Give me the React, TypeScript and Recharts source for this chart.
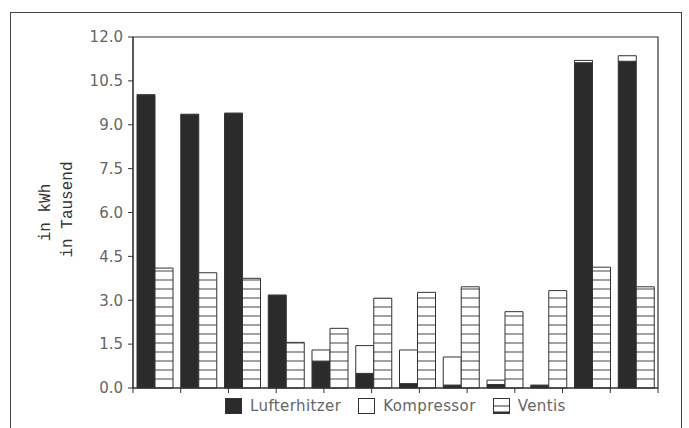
import { BarChart, Bar, XAxis, YAxis, Legend, ReferenceArea } from "recharts";

// months, no labels are printed under the bars
const months = ["Jan", "Feb", "Mär", "Apr", "Mai", "Jun", "Jul", "Aug", "Sep", "Okt", "Nov", "Dez"];
const lufterhitzer = [10.0, 9.34, 9.38, 3.16, 0.92, 0.5, 0.15, 0.1, 0.12, 0.08, 11.12, 11.17];
const kompressor = [0.03, 0.02, 0.02, 0.02, 0.38, 0.95, 1.15, 0.96, 0.15, 0.02, 0.08, 0.19];
const ventis = [4.1, 3.94, 3.75, 1.56, 2.04, 3.07, 3.27, 3.46, 2.61, 3.33, 4.13, 3.46];
const yTicks = [0, 1.5, 3, 4.5, 6, 7.5, 9, 10.5, 12];
const boundaryTicks = [0, 1, 2, 3, 4, 5, 6, 7, 8, 9, 10, 11, 12];

const data = months.map((m, i) => ({
  month: m,
  lufterhitzer: lufterhitzer[i],
  kompressor: kompressor[i],
  ventis: ventis[i],
}));

const INK = "#333";
const tickStyle = { fontFamily: "DejaVu Sans", fontSize: 15, fill: "#666" };

function AxisTitle(props: any) {
  const vb = props.viewBox || { y: 37, height: 351 };
  const cy = vb.y + vb.height / 2;
  const font = { fontFamily: "Liberation Mono", fontSize: 16, fill: "#333" };
  return (
    <g>
      <text transform={`translate(50,${cy}) rotate(-90)`} textAnchor="middle" {...font}>
        in kWh
      </text>
      <text transform={`translate(72,${cy - 3}) rotate(-90)`} textAnchor="middle" {...font}>
        in Tausend
      </text>
    </g>
  );
}

function Swatch({ kind }: { kind: string }) {
  return (
    <svg width={17} height={16} style={{ display: "block" }}>
      {kind === "black" && <rect x={0.5} y={0.5} width={16} height={15} fill="#2b2b2b" stroke={INK} />}
      {kind === "white" && <rect x={0.5} y={0.5} width={16} height={15} fill="#fff" stroke={INK} />}
      {kind === "hatch" && (
        <g>
          <rect x={0.5} y={0.5} width={16} height={15} fill="#fff" stroke={INK} />
          <line x1={0} y1={8} x2={17} y2={8} stroke={INK} />
          <line x1={0} y1={14.5} x2={17} y2={14.5} stroke={INK} strokeWidth={2} />
        </g>
      )}
    </svg>
  );
}

const legendItems = [
  { label: "Lufterhitzer", kind: "black" },
  { label: "Kompressor", kind: "white" },
  { label: "Ventis", kind: "hatch" },
];

function LegendBox() {
  return (
    <div style={{ height: 20, width: 689, display: "flex", paddingLeft: 225, boxSizing: "border-box", alignItems: "flex-start" }}>
      {legendItems.map((it) => (
        <div key={it.label} style={{ display: "flex", alignItems: "center", marginRight: 17 }}>
          <Swatch kind={it.kind} />
          <span style={{ fontFamily: "DejaVu Sans", fontSize: 15, color: "#666", marginLeft: 8, letterSpacing: 0.4, lineHeight: "16px" }}>
            {it.label}
          </span>
        </div>
      ))}
    </div>
  );
}

export default function App() {
  return (
    <div style={{ position: "absolute", left: 0, top: 0, width: 689, height: 428, background: "#fff", overflow: "hidden" }}>
      <div style={{ position: "absolute", left: 10, top: 12, width: 670, height: 430, border: "1.5px solid #444" }} />
      <BarChart
        width={689}
        height={428}
        data={data}
        margin={{ top: 37, right: 31, left: 0, bottom: 10 }}
        barGap={0}
        barSize={18}
        style={{ position: "absolute", left: 0, top: 0 }}
      >
        <defs>
          <pattern id="hatch" patternUnits="userSpaceOnUse" x={0} y={387.5} width={8} height={9}>
            <rect x={0} y={0} width={8} height={9} fill="#fff" />
            <line x1={0} y1={0.5} x2={8} y2={0.5} stroke="#444" strokeWidth={1} />
          </pattern>
        </defs>
        <XAxis dataKey="month" hide height={0} />
        <XAxis
          xAxisId="grid"
          type="number"
          domain={[0, 12]}
          ticks={boundaryTicks}
          height={10}
          tickSize={5}
          tickFormatter={() => ""}
          axisLine={{ stroke: INK }}
          tickLine={{ stroke: INK }}
        />
        <YAxis
          domain={[0, 12]}
          ticks={yTicks}
          width={133}
          tickSize={5}
          tickMargin={5}
          tick={tickStyle}
          tickFormatter={(v: number) => v.toFixed(1)}
          axisLine={{ stroke: INK }}
          tickLine={{ stroke: INK }}
          label={{ content: AxisTitle }}
        />
        <ReferenceArea
          x1="Jan"
          x2="Dez"
          y1={0}
          y2={12}
          fill="none"
          fillOpacity={0}
          stroke={INK}
          strokeWidth={1.2}
          strokeOpacity={1}
          ifOverflow="visible"
        />
        <Legend
          verticalAlign="bottom"
          content={() => <LegendBox />}
          wrapperStyle={{ position: "absolute", left: 0, top: 398, width: 689 }}
        />
        <Bar dataKey="lufterhitzer" stackId="a" fill="#2b2b2b" stroke={INK} isAnimationActive={false} />
        <Bar dataKey="kompressor" stackId="a" fill="#fff" stroke={INK} isAnimationActive={false} />
        <Bar dataKey="ventis" fill="url(#hatch)" stroke={INK} isAnimationActive={false} />
      </BarChart>
    </div>
  );
}
